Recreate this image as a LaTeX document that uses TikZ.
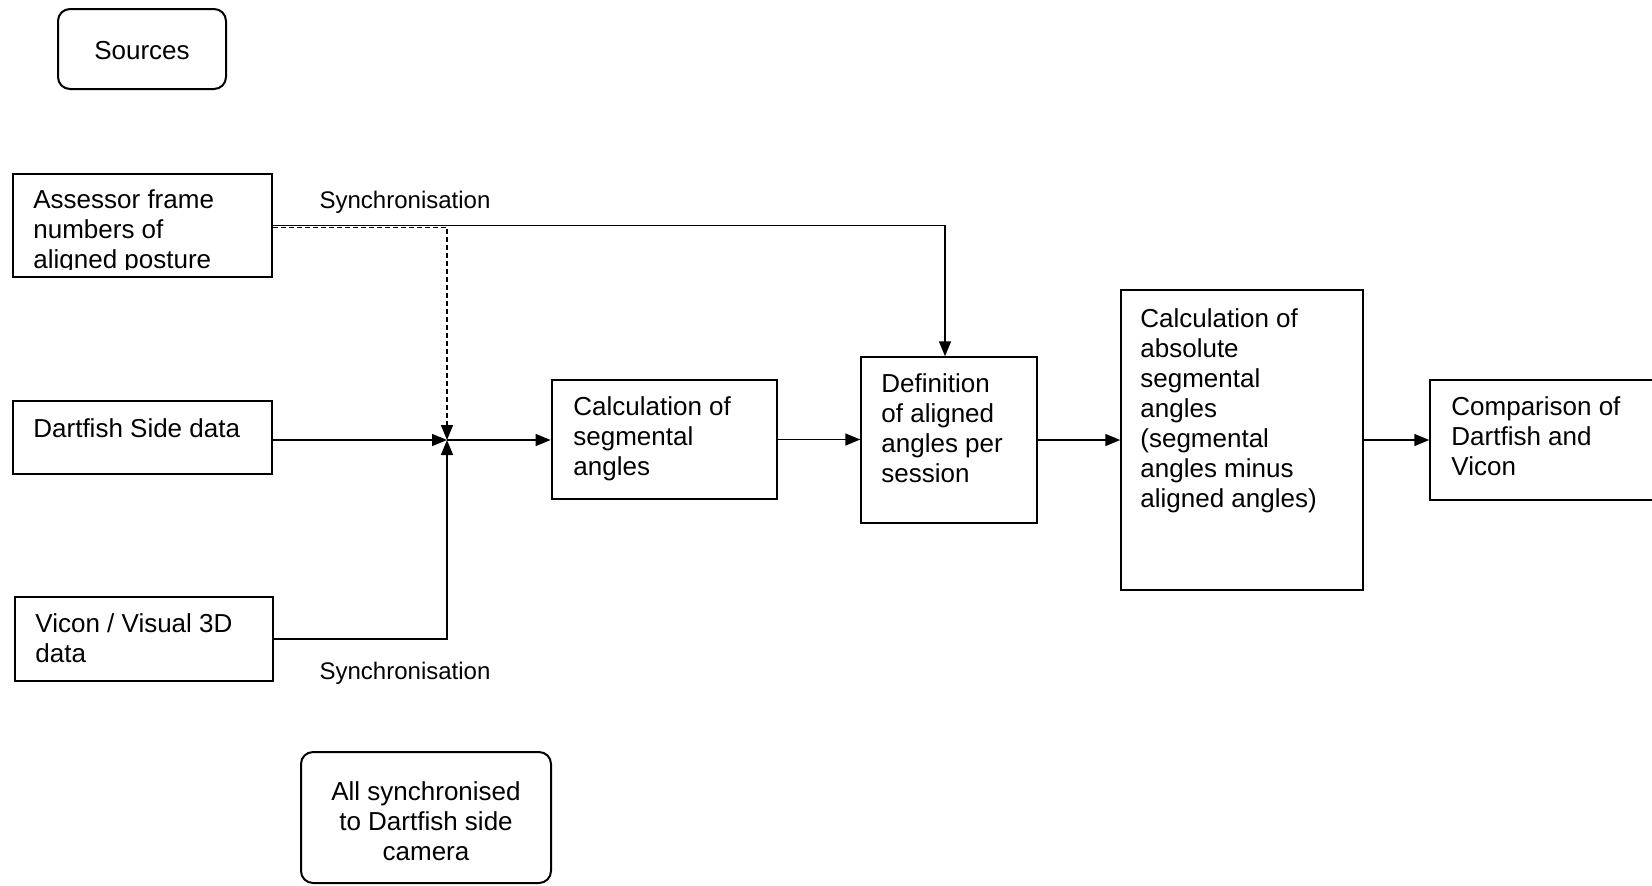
\documentclass[tikz,border=0pt]{standalone}
\usepackage{fontspec}
\setmainfont{Liberation Sans}
\usetikzlibrary{arrows.meta,fit}
\begin{document}
\begin{tikzpicture}[x=0.5pt,y=-0.5pt,
  box/.style={draw, line width=0.75pt, inner sep=0pt, rectangle},
  thickbox/.style={box, line width=1.4pt},
  rbox/.style={box, line width=1pt, rounded corners=6pt},
  txt/.style={inner sep=0pt, align=left, anchor=base west, font=\fontsize{13}{15}\selectfont},
  lbl/.style={inner sep=0pt, font=\fontsize{12}{14}\selectfont},
  conn/.style={line width=0.75pt},
  arr/.style={conn, -{Triangle[length=7.5pt,width=6pt]}},
  dashconn/.style={arr, dash pattern=on 2.5pt off 1.5pt}
]
\clip (0,0) rectangle (1652,885);

\node[rbox, fit={(58,9)(226,89)}] (sources) {};
\node[txt, anchor=base] (tsources) at (142,59) {Sources};

\node[box, fit={(13,174)(272,277)}] (assessor) {};
\begin{scope}
\clip (13,174) rectangle (272,269.5);
\node[txt] (tassessor) at (33,268) {Assessor frame\\numbers of\\aligned posture};
\end{scope}

\node[box, fit={(13,401)(272,474)}] (dart) {};
\node[txt] (tdart) at (33,437) {Dartfish Side data};

\node[box, fit={(15,597)(273,681)}] (vicon) {};
\node[txt] (tvicon) at (35,662) {Vicon / Visual 3D\\data};

\node[thickbox, fit={(552,380)(777,499)}] (calc) {};
\node[txt] (tcalc) at (573,475) {Calculation of\\segmental\\angles};

\node[box, fit={(861,357)(1037,523)}] (def) {};
\node[txt] (tdef) at (881,482) {Definition\\of aligned\\angles per\\session};

\node[box, fit={(1121,290)(1363,590)}] (abs) {};
\node[txt] (tabs) at (1140,507) {Calculation of\\absolute\\segmental\\angles\\(segmental\\angles minus\\aligned angles)};

\node[box, fit={(1430,380)(1680,500)}] (comp) {};
\node[txt] (tcomp) at (1451,475) {Comparison of\\Dartfish and\\Vicon};

\node[rbox, fit={(301,752)(551,883)}] (allsync) {};
\node[txt, align=center, anchor=base] (tallsync) at (426,860) {All synchronised\\to Dartfish side\\camera};

\node[lbl] (sync1) at (405,202) {Synchronisation};
\node[lbl] (sync2) at (405,673) {Synchronisation};

\coordinate (j) at (447,440);

\draw[arr] (assessor.east) -| ([xshift=-2pt]def.north);
\draw[dashconn] ([yshift=-1pt]assessor.east) -| (j);
\draw[arr] (dart.east |- j) -- (j);
\draw[arr] (vicon.east) -| (j);
\draw[arr] (j) -- (calc.west |- j);
\draw[arr] (calc.east) -- (calc.east -| def.west);
\draw[arr] (def.east) -- (def.east -| abs.west);
\draw[arr] (abs.east) -- (abs.east -| comp.west);
\end{tikzpicture}
\end{document}
